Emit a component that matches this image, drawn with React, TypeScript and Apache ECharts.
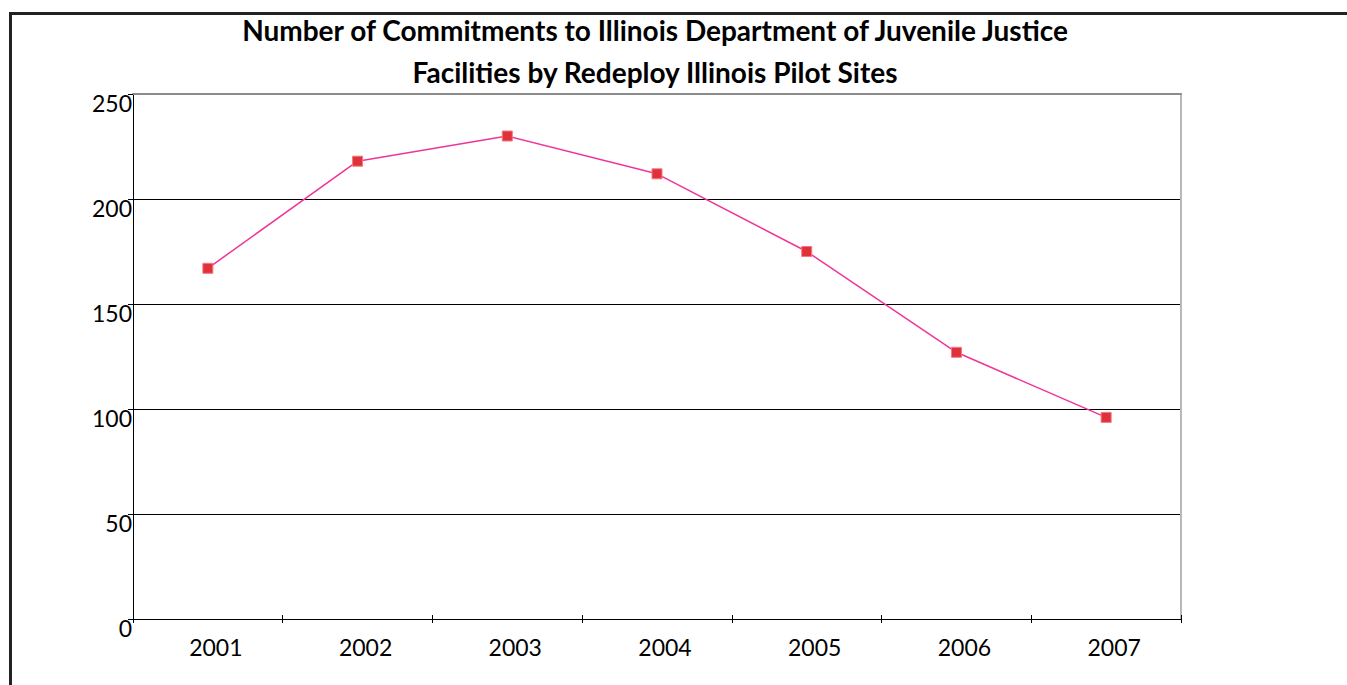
import React, { useEffect, useRef } from "react";
import * as echarts from "echarts";

const years = ["2001", "2002", "2003", "2004", "2005", "2006", "2007"];
const commitments = [167, 218, 230, 212, 175, 127, 96];
const titleLines = [
  "Number of Commitments to Illinois Department of Juvenile Justice",
  "Facilities by Redeploy Illinois Pilot Sites",
];
const yMin = 0;
const yMax = 250;
const yStep = 50;

export default function App() {
  const ref = useRef<HTMLDivElement>(null);
  useEffect(() => {
    if (!ref.current) return;
    const chart = echarts.init(ref.current, undefined, { renderer: "svg" });
    const font = "Lato";
    chart.setOption({
      animation: false,
      backgroundColor: "#ffffff",
      title: {
        text: titleLines.join("\n"),
        left: 650,
        textAlign: "center",
        top: 4,
        textStyle: {
          fontFamily: font,
          fontWeight: "bold",
          fontSize: 28,
          lineHeight: 42,
          color: "#000",
        },
      },
      graphic: [
        {
          type: "rect",
          shape: { x: 10.5, y: 13.5, width: 1400, height: 720 },
          style: { fill: "none", stroke: "#222", lineWidth: 3 },
          silent: true,
        },
      ],
      grid: { left: 133, top: 94, right: 166, bottom: 66, containLabel: false },
      xAxis: [
        {
          type: "category",
          data: years,
          boundaryGap: true,
          position: "bottom",
          axisLine: { show: true, lineStyle: { color: "#000", width: 1 } },
          axisTick: { show: true, length: 4, inside: false, lineStyle: { color: "#000" } },
          axisLabel: {
            fontFamily: font,
            fontSize: 23,
            color: "#000",
            margin: 16,
            padding: [0, 0, 0, 16],
          },
          splitLine: { show: false },
        },
        {
          type: "category",
          data: years,
          boundaryGap: true,
          position: "bottom",
          axisLine: { show: false },
          axisTick: { show: true, length: 4, inside: true, lineStyle: { color: "#000" } },
          axisLabel: { show: false },
          splitLine: { show: false },
        },
        {
          type: "category",
          data: years,
          boundaryGap: true,
          position: "top",
          axisLine: { show: true, lineStyle: { color: "#8c8c8c", width: 2 } },
          axisTick: { show: false },
          axisLabel: { show: false },
          splitLine: { show: false },
        },
      ],
      yAxis: [
        {
          type: "value",
          min: yMin,
          max: yMax,
          interval: yStep,
          position: "left",
          axisLine: { show: true, lineStyle: { color: "#000", width: 1 } },
          axisTick: { show: true, length: 5, lineStyle: { color: "#000" } },
          axisLabel: {
            fontFamily: font,
            fontSize: 23,
            color: "#000",
            margin: 1,
            verticalAlign: "top",
            lineHeight: 17,
          },
          splitLine: {
            show: true,
            lineStyle: { color: ["#000", "#000", "#000", "#000", "#000", "#8c8c8c"], width: 1 },
          },
        },
        {
          type: "value",
          min: yMin,
          max: yMax,
          interval: yStep,
          position: "right",
          axisLine: { show: true, lineStyle: { color: "#b8b8b8", width: 2 } },
          axisTick: { show: false },
          axisLabel: { show: false },
          splitLine: { show: false },
        },
      ],
      series: [
        {
          type: "line",
          data: commitments,
          xAxisIndex: 0,
          yAxisIndex: 0,
          symbol: "rect",
          symbolSize: 10,
          lineStyle: { color: "#f0359a", width: 1.5 },
          itemStyle: { color: "#e0303a", borderColor: "#f07a80", borderWidth: 1 },
          z: 5,
        },
      ],
    });
    return () => chart.dispose();
  }, []);
  return (
    <div
      ref={ref}
      style={{ position: "fixed", left: 0, top: 0, width: 1347, height: 685 }}
    />
  );
}
